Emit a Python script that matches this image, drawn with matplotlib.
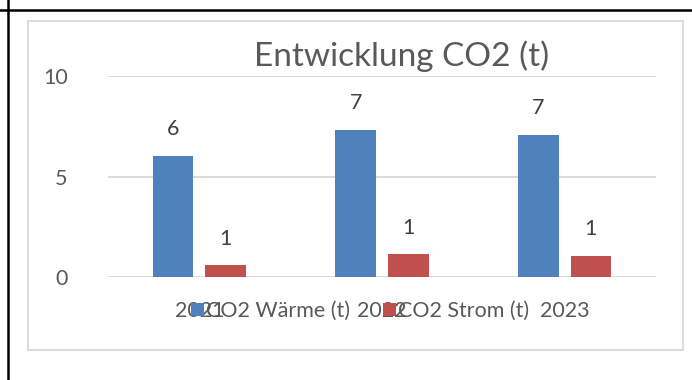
import matplotlib.pyplot as plt
import numpy as np
from matplotlib.lines import Line2D
from matplotlib.patches import Rectangle

plt.rcParams['font.family'] = ['Lato', 'DejaVu Sans']

# CO2 values per year (t)
jahre = ['2021', '2022', '2023']
co2_waerme = [6.03, 7.33, 7.08]
co2_strom = [0.60, 1.14, 1.06]

blau = '#4f81bd'
rot = '#c0504d'
grau_text = '#595959'
grau_linie = '#d9d9d9'

W, H = 692, 380
fig = plt.figure(figsize=(W / 100, H / 100), dpi=100)

def fx(px):
    return px / W

def fy(py):
    return 1 - py / H

# table cell borders
fig.add_artist(Line2D([0, 1], [fy(9.5), fy(9.5)], color='black', lw=1.8))
fig.add_artist(Line2D([fx(7.5), fx(7.5)], [0, 1], color='black', lw=1.8))

# chart frame
fig.add_artist(Rectangle((fx(28), fy(350)), fx(683) - fx(28), fy(20.5) - fy(350),
                         fill=False, edgecolor=grau_linie, lw=1.3))

ax = fig.add_axes([fx(108), fy(277.3), fx(656) - fx(108), fy(76) - fy(277.3)])

x = np.arange(len(jahre))
bw = 0.222
off = 0.144
b1 = ax.bar(x - off, co2_waerme, bw, color=blau, label='CO2 Wärme (t)', zorder=3)
b2 = ax.bar(x + off, co2_strom, bw, color=rot, label='CO2 Strom (t)', zorder=3)

for bars, vals in ((b1, co2_waerme), (b2, co2_strom)):
    for r, v in zip(bars, vals):
        ax.annotate(f'{v:.0f}', (r.get_x() + r.get_width() / 2, v),
                    xytext=(0, 12), textcoords='offset points',
                    ha='center', va='bottom', fontsize=15.5, color='#404040')

ax.set_xlim(-0.5, 2.5)
ax.set_ylim(0, 10)
ax.set_yticks([0, 5, 10])
ax.set_xticks(x)
ax.set_xticklabels(jahre)
ax.yaxis.grid(True, color=grau_linie, lw=1.4, zorder=0)
ax.tick_params(axis='y', length=0, pad=29, labelsize=15.5, labelcolor=grau_text)
ax.tick_params(axis='x', length=0, pad=17, labelsize=15.5, labelcolor=grau_text)
for s in ax.spines.values():
    s.set_visible(False)

fig.text(fx(402), fy(56), 'Entwicklung CO2 (t)', ha='center', va='center',
         fontsize=24, color=grau_text)

fig.legend(handles=[b1, b2], loc='center', bbox_to_anchor=(fx(360), fy(311)),
           ncol=2, frameon=False, fontsize=15.5, labelcolor=grau_text,
           handlelength=0.6, handleheight=0.6, handletextpad=0.1,
           columnspacing=1.5, borderpad=0)

fig.savefig('out.png', dpi=100)
